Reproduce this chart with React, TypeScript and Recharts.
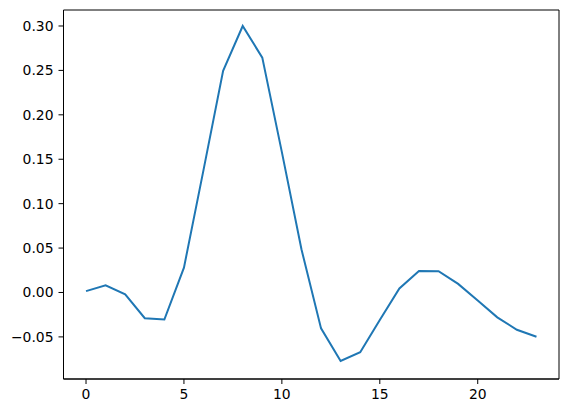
import React from 'react';
import { LineChart, Line, XAxis, YAxis, ReferenceArea } from 'recharts';

const xValues = [0, 1, 2, 3, 4, 5, 6, 7, 8, 9, 10, 11, 12, 13, 14, 15, 16, 17, 18, 19, 20, 21, 22, 23];
const yValues = [
  0.0015, 0.008, -0.002, -0.029, -0.0305, 0.028, 0.138, 0.2495, 0.3, 0.2644, 0.158, 0.0486,
  -0.0404, -0.0771, -0.0673, -0.031, 0.0045, 0.0243, 0.024, 0.0097, -0.009, -0.028, -0.042, -0.0498,
];
const xTicks = [0, 5, 10, 15, 20];
const yTicks = [-0.05, 0, 0.05, 0.1, 0.15, 0.2, 0.25, 0.3];

const data = xValues.map((x, i) => ({ x, y: yValues[i] }));

const X_DOMAIN: [number, number] = [-1.15, 24.15];
const Y_DOMAIN: [number, number] = [-0.0974, 0.318];

const fmtY = (v: number) => {
  const s = v.toFixed(2);
  return s.startsWith('-') ? '\u2212' + s.slice(1) : s;
};

const tickStyle = { fill: '#000', fontSize: 13.9, fontFamily: 'DejaVu Sans' };

export default function App() {
  return (
    <div style={{ position: 'absolute', left: 0, top: 0, background: '#fff' }}>
      <LineChart
        width={568}
        height={413}
        data={data}
        margin={{ top: 10, right: 9, bottom: 0, left: 0 }}
      >
        <XAxis
          dataKey="x"
          type="number"
          domain={X_DOMAIN}
          ticks={xTicks}
          allowDataOverflow
          height={34}
          tickSize={5}
          tickMargin={5}
          tick={tickStyle}
          axisLine={{ stroke: '#000', strokeWidth: 1 }}
          tickLine={{ stroke: '#000', strokeWidth: 1 }}
        />
        <YAxis
          type="number"
          domain={Y_DOMAIN}
          ticks={yTicks}
          allowDataOverflow
          width={63.5}
          tickSize={5}
          tickMargin={5}
          tickFormatter={fmtY}
          tick={tickStyle}
          axisLine={{ stroke: '#000', strokeWidth: 1 }}
          tickLine={{ stroke: '#000', strokeWidth: 1 }}
        />
        <ReferenceArea
          x1={X_DOMAIN[0]}
          x2={X_DOMAIN[1]}
          y1={Y_DOMAIN[0]}
          y2={Y_DOMAIN[1]}
          fill="none"
          stroke="#000"
          strokeWidth={1}
          fillOpacity={0}
          ifOverflow="visible"
        />
        <Line
          type="linear"
          dataKey="y"
          stroke="#1f77b4"
          strokeWidth={2}
          dot={false}
          activeDot={false}
          isAnimationActive={false}
        />
      </LineChart>
    </div>
  );
}
